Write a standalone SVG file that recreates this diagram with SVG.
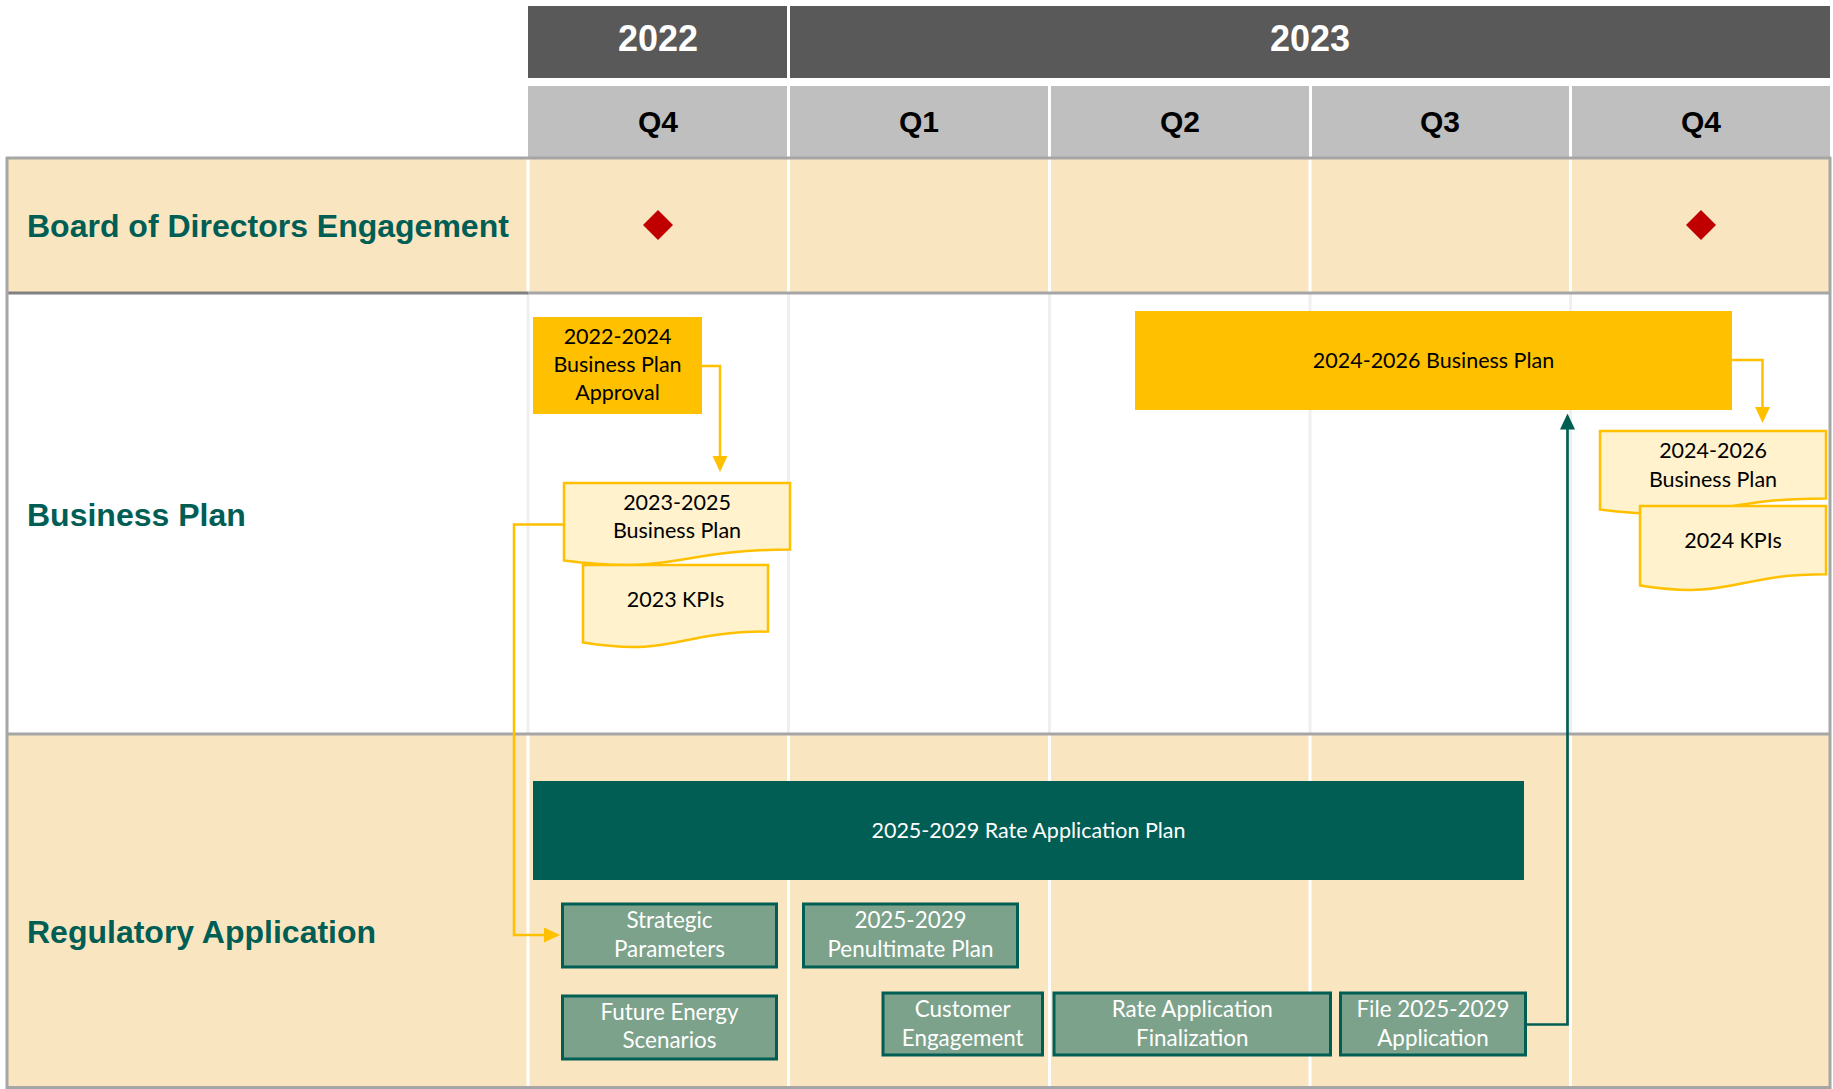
<svg xmlns="http://www.w3.org/2000/svg" width="1833" height="1089" viewBox="0 0 1833 1089">
<style>
.yr{fill:#595959}
.qt{fill:#BFBFBF}
.yrt{font-family:"Liberation Sans",Arial,sans-serif;font-weight:bold;font-size:36px;fill:#fff;text-anchor:middle}
.qtt{font-family:"Liberation Sans",Arial,sans-serif;font-weight:bold;font-size:30px;fill:#000;text-anchor:middle}
.lbl{font-family:"Liberation Sans",Arial,sans-serif;font-weight:bold;font-size:32px;fill:#005E54}
.tan{fill:#FAE5C1}
.gw{stroke:#fff;stroke-width:3}
.gg{stroke:#EFEFEF;stroke-width:3}
.bd{stroke:#A6A6A6;stroke-width:3;fill:none}
.t{font-family:Lato,"Liberation Sans",sans-serif;font-size:21.5px;text-anchor:middle}
.ts{font-size:22.4px}
.tk{fill:#000}
.tw{fill:#fff}
.ybox{fill:#FFC000}
.doc{fill:#FFF2CC;stroke:#FFC000;stroke-width:2.5}
.gbox{fill:#7CA28B;stroke:#005E55;stroke-width:3}
.ycon{fill:none;stroke:#FFC000;stroke-width:2.5}
.gcon{fill:none;stroke:#005E55;stroke-width:2.7}
</style>
<defs>
<marker id="ay" markerUnits="userSpaceOnUse" markerWidth="16" markerHeight="16" refX="13" refY="7.5" orient="auto"><path d="M0,0 L16,7.5 L0,15 Z" fill="#FFC000"/></marker>
<marker id="ag" markerUnits="userSpaceOnUse" markerWidth="16" markerHeight="16" refX="13" refY="7.5" orient="auto"><path d="M0,0 L16,7.5 L0,15 Z" fill="#005E55"/></marker>
</defs>
<rect x="0" y="0" width="1833" height="1089" fill="#fff"/>
<g id="grid">
<rect class="yr" x="528" y="6" width="259" height="72"/>
<rect class="yr" x="790" y="6" width="1040" height="72"/>
<text class="yrt" x="658" y="51">2022</text>
<text class="yrt" x="1310" y="51">2023</text>
<rect class="qt" x="528" y="86" width="259" height="71"/>
<rect class="qt" x="790" y="86" width="258" height="71"/>
<rect class="qt" x="1051" y="86" width="258" height="71"/>
<rect class="qt" x="1312" y="86" width="257" height="71"/>
<rect class="qt" x="1572" y="86" width="258" height="71"/>
<text class="qtt" x="658" y="132">Q4</text>
<text class="qtt" x="919" y="132">Q1</text>
<text class="qtt" x="1180" y="132">Q2</text>
<text class="qtt" x="1440" y="132">Q3</text>
<text class="qtt" x="1701" y="132">Q4</text>
<rect class="tan" x="7" y="158" width="1823" height="135"/>
<rect class="tan" x="7" y="734" width="1823" height="354"/>
<line class="gw" x1="528" y1="158" x2="528" y2="293"/>
<line class="gw" x1="788.5" y1="158" x2="788.5" y2="293"/>
<line class="gw" x1="1049.5" y1="158" x2="1049.5" y2="293"/>
<line class="gw" x1="1310" y1="158" x2="1310" y2="293"/>
<line class="gw" x1="1570.5" y1="158" x2="1570.5" y2="293"/>
<line class="gg" x1="528" y1="293" x2="528" y2="734"/>
<line class="gg" x1="788.5" y1="293" x2="788.5" y2="734"/>
<line class="gg" x1="1049.5" y1="293" x2="1049.5" y2="734"/>
<line class="gg" x1="1310" y1="293" x2="1310" y2="734"/>
<line class="gg" x1="1570.5" y1="293" x2="1570.5" y2="734"/>
<line class="gw" x1="528" y1="734" x2="528" y2="1088"/>
<line class="gw" x1="788.5" y1="734" x2="788.5" y2="1088"/>
<line class="gw" x1="1049.5" y1="734" x2="1049.5" y2="1088"/>
<line class="gw" x1="1310" y1="734" x2="1310" y2="1088"/>
<line class="gw" x1="1570.5" y1="734" x2="1570.5" y2="1088"/>
<line class="bd" x1="6" y1="158" x2="1831" y2="158"/>
<line class="bd" x1="528" y1="293" x2="1831" y2="293"/>
<line x1="6" y1="293" x2="528" y2="293" stroke="#808080" stroke-width="3"/>
<line class="bd" x1="6" y1="734" x2="1831" y2="734"/>
<line class="bd" x1="6" y1="1087.5" x2="1831" y2="1087.5"/>
<line class="bd" x1="7" y1="157" x2="7" y2="1089"/>
<line class="bd" x1="1830" y1="157" x2="1830" y2="1089"/>
<text class="lbl" x="27" y="237">Board of Directors Engagement</text>
<text class="lbl" x="27" y="526">Business Plan</text>
<text class="lbl" x="27" y="943">Regulatory Application</text>
</g>
<g id="milestone-2022q4"><path d="M658,210 L673,225 L658,240 L643,225 Z" fill="#C00000"/></g>
<g id="milestone-2023q4"><path d="M1701,210 L1716,225 L1701,240 L1686,225 Z" fill="#C00000"/></g>
<g id="bp-approval">
<rect class="ybox" x="533" y="317" width="169" height="97"/>
<text class="t tk" x="617.5" y="344">2022-2024</text>
<text class="t tk" x="617.5" y="372">Business Plan</text>
<text class="t tk" x="617.5" y="400">Approval</text>
</g>
<g id="bp-2023-2025">
<path class="doc" d="M564,483 H790 V549.6 C677,549.6 677,574.9 564,560.5 Z"/>
<text class="t tk" x="677" y="510">2023-2025</text>
<text class="t tk" x="677" y="538">Business Plan</text>
</g>
<g id="kpi-2023">
<path class="doc" d="M583,565 H768 V631.6 C675.5,631.6 675.5,656.9 583,642.5 Z"/>
<text class="t tk" x="675.5" y="607">2023 KPIs</text>
</g>
<g id="bp-2024-2026-bar">
<rect class="ybox" x="1135" y="311" width="597" height="99"/>
<text class="t tk" x="1433.5" y="368">2024-2026 Business Plan</text>
</g>
<g id="bp-2024-2026">
<path class="doc" d="M1600,431 H1826 V498.4 C1713,498.4 1713,524 1600,509.5 Z"/>
<text class="t tk" x="1713" y="458">2024-2026</text>
<text class="t tk" x="1713" y="487">Business Plan</text>
</g>
<g id="kpi-2024">
<path class="doc" d="M1640,506 H1826 V574.2 C1733,574.2 1733,600.1 1640,585.4 Z"/>
<text class="t tk" x="1733" y="548">2024 KPIs</text>
</g>
<g id="rate-plan">
<rect x="533" y="781" width="991" height="99" fill="#005E55"/>
<text class="t tw" x="1028.5" y="838">2025-2029 Rate Application Plan</text>
</g>
<g id="strategic">
<rect class="gbox" x="562.5" y="904" width="214" height="63"/>
<text class="t ts tw" x="669.5" y="928">Strategic</text>
<text class="t ts tw" x="669.5" y="957">Parameters</text>
</g>
<g id="future-energy">
<rect class="gbox" x="562.5" y="996" width="214" height="63"/>
<text class="t ts tw" x="669.5" y="1020">Future Energy</text>
<text class="t ts tw" x="669.5" y="1048">Scenarios</text>
</g>
<g id="penultimate">
<rect class="gbox" x="803.5" y="904" width="214" height="63"/>
<text class="t ts tw" x="910.5" y="928">2025-2029</text>
<text class="t ts tw" x="910.5" y="957">Penultimate Plan</text>
</g>
<g id="customer">
<rect class="gbox" x="883" y="993" width="159.5" height="62"/>
<text class="t ts tw" x="962.7" y="1017">Customer</text>
<text class="t ts tw" x="962.7" y="1046">Engagement</text>
</g>
<g id="finalization">
<rect class="gbox" x="1054" y="993" width="276.5" height="62"/>
<text class="t ts tw" x="1192.3" y="1017">Rate Application</text>
<text class="t ts tw" x="1192.3" y="1046">Finalization</text>
</g>
<g id="file-application">
<rect class="gbox" x="1340.5" y="993" width="185" height="62"/>
<text class="t ts tw" x="1433" y="1017">File 2025-2029</text>
<text class="t ts tw" x="1433" y="1046">Application</text>
</g>
<g id="connectors">
<path class="ycon" d="M702,366 H720 V469" marker-end="url(#ay)"/>
<path class="ycon" d="M1732,360 H1762.5 V420" marker-end="url(#ay)"/>
<path class="ycon" d="M564,524.5 H514 V935 H557" marker-end="url(#ay)"/>
<path class="gcon" d="M1527,1024.5 H1567.5 V416.5" marker-end="url(#ag)"/>
</g>
</svg>
